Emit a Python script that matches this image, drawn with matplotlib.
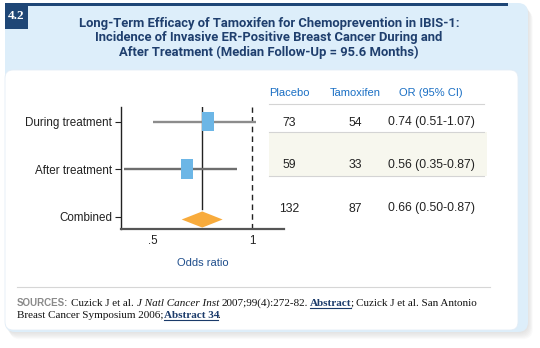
import matplotlib
matplotlib.use("Agg")
import matplotlib.pyplot as plt
from matplotlib.patches import Rectangle, FancyBboxPatch, Polygon

# ---------------- data ----------------
rows = ["During treatment", "After treatment", "Combined"]
ypos = [3, 2, 1]
est = [0.777, 0.672]          # squares (as drawn)
ci_lo = [0.50, 0.354]
ci_hi = [1.02, 0.926]
comb_est, comb_lo, comb_hi = 0.749, 0.645, 0.852

col_heads = ["Placebo", "Tamoxifen", "OR (95% CI)"]
placebo = ["73", "59", "132"]
tamoxifen = ["54", "33", "87"]
or_ci = ["0.74 (0.51-1.07)", "0.56 (0.35-0.87)", "0.66 (0.50-0.87)"]

xticks = [0.5, 1.0]
xticklabels = [".5", "1"]

title_lines = ["Long-Term Efficacy of Tamoxifen for Chemoprevention in IBIS-1:",
               "Incidence of Invasive ER-Positive Breast Cancer During and",
               "After Treatment (Median Follow-Up = 95.6 Months)"]

navy = "#1e4676"
sans = ["Liberation Sans", "DejaVu Sans"]
narrow = ["Roboto", "Liberation Sans", "DejaVu Sans"]
serif = ["Liberation Serif", "DejaVu Serif"]

fig = plt.figure(figsize=(5.4, 3.48), dpi=100)
bg = fig.add_axes([0, 0, 1, 1])
bg.set_xlim(0, 540)
bg.set_ylim(348, 0)
bg.axis("off")

# card + shadow
for i in range(1, 7):
    bg.add_patch(FancyBboxPatch((5 + i * 0.8, 3 + i * 1.2), 523, 329,
                                boxstyle="round,pad=0,rounding_size=10",
                                fc="#808080", ec="none", alpha=0.035))
bg.add_patch(FancyBboxPatch((5, 3), 523, 329, boxstyle="round,pad=0,rounding_size=10",
                            fc="#ddeefa", ec="none"))
bg.add_patch(Rectangle((18, 2.5), 490, 3.5, fc=navy, ec="none"))
bg.add_patch(Rectangle((5, 2.5), 23, 26.5, fc=navy, ec="none"))
bg.text(16.5, 16, "4.2", color="white", family=serif, weight="bold", fontsize=9.5,
        ha="center", va="center")
bg.add_patch(FancyBboxPatch((5, 70), 513, 260, boxstyle="round,pad=0,rounding_size=8",
                            fc="white", ec="#e3edf6", lw=0.6))

# title
for k, line in enumerate(title_lines):
    bg.text(269, 23.5 + 14.5 * k, line, color="#1f3f6e", family=narrow, weight="bold",
            fontsize=9.4, ha="center", va="center")

# table
col_x = [289, 355, 431]
head_y = 93.5
row_y = [122.5, 165, 208.5]
bg.add_patch(Rectangle((269, 132.3), 218, 43.7, fc="#f7f7ee", ec="none"))
for yl in [104.3, 132.3, 176]:
    bg.plot([269, 484], [yl, yl], color="#d4d4d4", lw=0.8)
for cx, h in zip(col_x, col_heads):
    bg.text(cx, head_y, h, color="#1a6fc4", family=sans, fontsize=8, ha="center", va="center")
for ry, p, t, o in zip(row_y, placebo, tamoxifen, or_ci):
    bg.text(col_x[0], ry, p, color="#222222", family=sans, fontsize=8.8, ha="center", va="center")
    bg.text(col_x[1], ry, t, color="#222222", family=sans, fontsize=8.8, ha="center", va="center")
    bg.text(col_x[2], ry, o, color="#222222", family=sans, fontsize=8.8, ha="center", va="center")

# forest plot
ax = fig.add_axes([120.7 / 540, (348 - 229) / 348, (284 - 120.7) / 540, (229 - 106.7) / 348])
ax.set_xlim(0.337, 1.162)
ax.set_ylim(0.74, 3.316)
ax.patch.set_alpha(0)
for s in ["top", "right"]:
    ax.spines[s].set_visible(False)
ax.spines["left"].set_color("#222222")
ax.spines["left"].set_linewidth(1)
ax.spines["bottom"].set_color("#555555")
ax.spines["bottom"].set_linewidth(1.6)

ax.axvline(1.0, color="#222222", lw=1, ls=(0, (4, 3)))
ax.plot([comb_est, comb_est], [1.17, 3.316], color="#222222", lw=1)

line_cols = ["#8c8c8c", "#6e6e6e"]
sq_w, sq_h = 0.061, 0.41
for y, e, lo, hi, lc in zip(ypos[:2], est, ci_lo, ci_hi, line_cols):
    ax.plot([lo, hi], [y, y], color=lc, lw=1.7, solid_capstyle="butt", zorder=2)
    ax.add_patch(Rectangle((e - sq_w / 2, y - sq_h / 2), sq_w, sq_h, fc="#6cb6e6",
                           ec="none", zorder=3))
dh = 0.17
ax.add_patch(Polygon([(comb_lo, ypos[2] - 0.06), (comb_est, ypos[2] + dh - 0.06),
                      (comb_hi, ypos[2] - 0.06), (comb_est, ypos[2] - dh - 0.06)],
                     closed=True, fc="#f8ab3c", ec="none", zorder=3))

ax.set_yticks(ypos)
ax.set_yticklabels(rows, family=sans, fontsize=8.4, color="#222222")
ax.set_xticks(xticks)
ax.set_xticklabels(xticklabels, family=sans, fontsize=8.4, color="#222222")
ax.tick_params(axis="y", length=4, width=0.8, pad=2, color="#222222")
ax.tick_params(axis="x", length=0, pad=4)
ax.set_xlabel("Odds ratio", family=sans, fontsize=8, color="#1f4e8c", labelpad=8)

# footer
bg.plot([17, 490], [287, 287], color="#d6d6d6", lw=0.8)
fig.canvas.draw()
rend = fig.canvas.get_renderer()


def put(x, y, s, **kw):
    t = bg.text(x, y, s, va="baseline", **kw)
    bb = t.get_window_extent(rend)
    return x + bb.width, bb


ftxt = dict(family=serif, fontsize=8, color="#111111")
flink = dict(family=serif, fontsize=8, color="#1a3a6a", weight="bold")
x, _ = put(17, 305.5, "SOURCES:", family=sans, fontsize=7, weight="bold", color="#8a8a8a")
x, _ = put(x + 3, 305.5, "Cuzick J et al.", **ftxt)
x, _ = put(x + 2.5, 305.5, "J Natl Cancer Inst", family=serif, fontsize=8, style="italic", color="#111111")
x, _ = put(x + 2.5, 305.5, "2007;99(4):272-82.", **ftxt)
x0 = x + 2.5
x, _ = put(x0, 305.5, "Abstract", **flink)
bg.plot([x0, x - 1], [307.5, 307.5], color="#1a3a6a", lw=0.8)
x, _ = put(x - 1.5, 305.5, ";", **ftxt)
x, _ = put(x + 2.5, 305.5, "Cuzick J et al. San Antonio", **ftxt)
x, _ = put(17, 317.5, "Breast Cancer Symposium 2006;", **ftxt)
x0 = x
x, _ = put(x0, 317.5, "Abstract 34", **flink)
bg.plot([x0, x - 1], [319.5, 319.5], color="#1a3a6a", lw=0.8)
put(x - 1.5, 317.5, ".", **ftxt)

fig.savefig("out.png", dpi=100)
